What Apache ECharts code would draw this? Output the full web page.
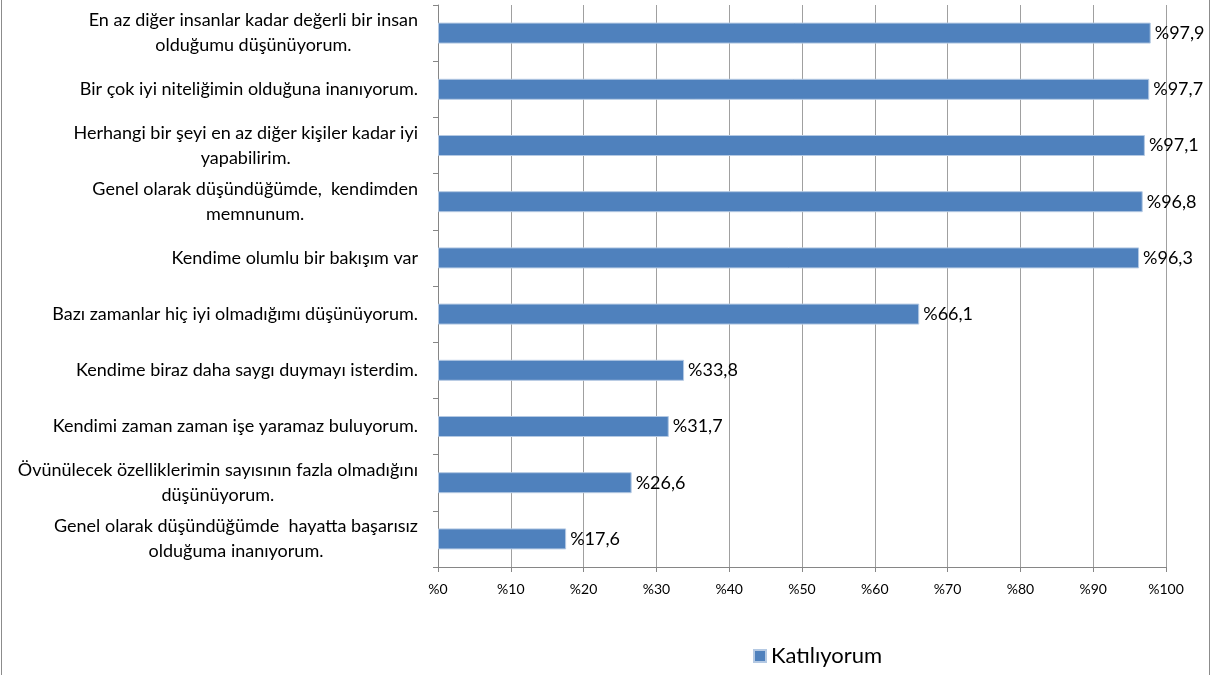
<!DOCTYPE html>
<html>
<head>
<meta charset="utf-8">
<script src="https://cdn.jsdelivr.net/npm/echarts@6/dist/echarts.min.js"></script>
<style>
  html, body { margin: 0; padding: 0; background: #fff; }
  #chart { width: 1222px; height: 675px; }
  /* Excel çerçevesi: sadece sol ve sağ kenar görünüyor */
  .frame { position: absolute; top: 0; bottom: 0; width: 1px; background: #8c8c8c; }
</style>
</head>
<body>
<div class="frame" style="left:1px"></div>
<div class="frame" style="left:1209px"></div>
<div id="chart"></div>
<script>
// kategoriler (yukarıdan aşağıya)
var categories = [
  'En az diğer insanlar kadar değerli bir insan\nolduğumu düşünüyorum.',
  'Bir çok iyi niteliğimin olduğuna inanıyorum.',
  'Herhangi bir şeyi en az diğer kişiler kadar iyi\nyapabilirim.',
  'Genel olarak düşündüğümde,  kendimden\nmemnunum.',
  'Kendime olumlu bir bakışım var',
  'Bazı zamanlar hiç iyi olmadığımı düşünüyorum.',
  'Kendime biraz daha saygı duymayı isterdim.',
  'Kendimi zaman zaman işe yaramaz buluyorum.',
  'Övünülecek özelliklerimin sayısının fazla olmadığını\ndüşünüyorum.',
  'Genel olarak düşündüğümde  hayatta başarısız\nolduğuma inanıyorum.'
]
// Katılıyorum yüzdeleri
var katiliyorum = [97.9, 97.7, 97.1, 96.8, 96.3, 66.1, 33.8, 31.7, 26.6, 17.6]
var seriesName = 'Katılıyorum'

var FONT = 'Lato, "Open Sans", sans-serif'

var chart = echarts.init(document.getElementById('chart'))
chart.setOption({
  animation: false,
  grid: { left: 438, right: 56, top: 5, bottom: 108, containLabel: false },
  legend: {
    top: 640,
    left: 748,
    itemWidth: 12,
    itemHeight: 12,
    itemGap: 6,
    icon: 'rect',
    textStyle: { fontFamily: FONT, fontSize: 22, color: '#000' },
    data: [seriesName]
  },
  xAxis: {
    type: 'value',
    min: 0,
    max: 100,
    interval: 10,
    axisLine: { show: true, lineStyle: { color: '#868686', width: 1 } },
    axisTick: { show: true, length: 5, lineStyle: { color: '#868686' } },
    splitLine: { show: true, lineStyle: { color: '#a0a0a0', width: 1 } },
    axisLabel: {
      margin: 15,
      fontFamily: FONT,
      fontSize: 14,
      color: '#000',
      formatter: function (v) { return '%' + v }
    }
  },
  yAxis: {
    type: 'category',
    inverse: true,
    data: categories,
    axisLine: { show: true, lineStyle: { color: '#868686', width: 1 } },
    axisTick: { show: true, length: 5, lineStyle: { color: '#868686' } },
    axisLabel: {
      margin: 20,
      color: '#000',
      formatter: function (v) {
        return v.split('\n').map(function (s) { return '{a|' + s + '}' }).join('\n')
      },
      rich: {
        a: { fontFamily: FONT, fontSize: 18, lineHeight: 25, align: 'center', color: '#000' }
      }
    }
  },
  series: [{
    name: seriesName,
    type: 'bar',
    data: katiliyorum,
    barWidth: 21,
    itemStyle: { color: '#4f81bd', borderColor: '#b4c9e3', borderWidth: 1 },
    label: {
      show: true,
      position: 'right',
      distance: 4,
      fontFamily: FONT,
      fontSize: 18,
      color: '#000',
      formatter: function (p) { return '%' + String(p.value).replace('.', ',') }
    }
  }]
})
</script>
</body>
</html>
